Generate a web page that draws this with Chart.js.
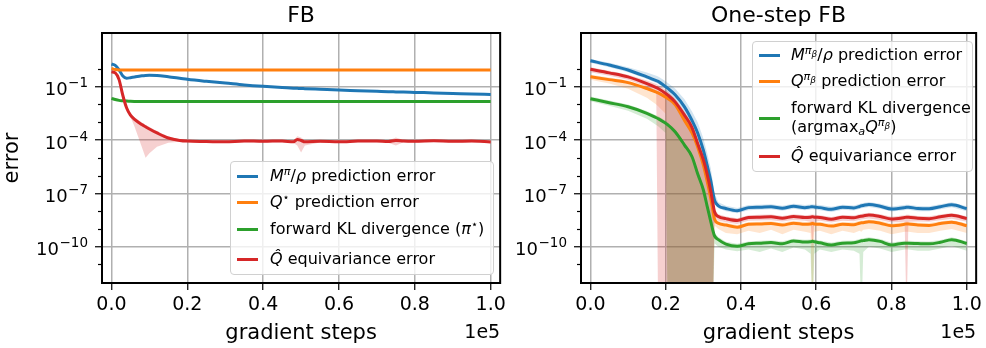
<!DOCTYPE html>
<html>
<head>
<meta charset="utf-8">
<script src="https://cdn.jsdelivr.net/npm/chart.js@4.4.1/dist/chart.umd.min.js"></script>
<style>
body { margin: 0; background: #fff; width: 986px; height: 348px; overflow: hidden; position: relative; font-family: "DejaVu Sans", sans-serif; }
canvas { position: absolute; top: 0; }
#fb { left: 0; }
#onestep { left: 510px; }
.legend { position: absolute; background: rgba(255,255,255,0.8); border: 1px solid #d0d0d0; border-radius: 4px; box-sizing: border-box; font-size: 16px; color: #000; }
.legend .sw { position: absolute; left: 6px; width: 21px; height: 3px; }
.legend .tx { position: absolute; white-space: nowrap; line-height: 19px; }
.legend i { font-style: italic; }
.legend sup { font-size: 0.7em; vertical-align: 0.5em; line-height: 0; }
.legend sup sub { font-size: 0.8em; vertical-align: -0.3em; }
.legend sub { font-size: 0.7em; vertical-align: -0.25em; line-height: 0; }
</style>
</head>
<body>
<canvas id="fb" width="510" height="348"></canvas>
<canvas id="onestep" width="476" height="348"></canvas>

<div class="legend" style="left:230px;top:161px;width:264px;height:114px">
  <div class="sw" style="top:13px;background:#1f77b4"></div>
  <div class="tx" style="left:39px;top:4px"><i>M</i><sup><i>π</i></sup>/<i>ρ</i> prediction error</div>
  <div class="sw" style="top:39px;background:#ff7f0e"></div>
  <div class="tx" style="left:39px;top:30px"><i>Q</i><sup>⋆</sup> prediction error</div>
  <div class="sw" style="top:66px;background:#2ca02c"></div>
  <div class="tx" style="left:39px;top:57px">forward KL divergence (<i>π</i><sup>⋆</sup>)</div>
  <div class="sw" style="top:96px;background:#d62728"></div>
  <div class="tx" style="left:39px;top:87px"><i>Q̂</i> equivariance error</div>
</div>

<div class="legend" style="left:752px;top:41px;width:221px;height:131px">
  <div class="sw" style="top:12px;background:#1f77b4"></div>
  <div class="tx" style="left:38px;top:3px"><i>M</i><sup><i>π</i><sub><i>β</i></sub></sup>/<i>ρ</i> prediction error</div>
  <div class="sw" style="top:38px;background:#ff7f0e"></div>
  <div class="tx" style="left:38px;top:29px"><i>Q</i><sup><i>π</i><sub><i>β</i></sub></sup> prediction error</div>
  <div class="sw" style="top:75px;background:#2ca02c"></div>
  <div class="tx" style="left:38px;top:56px">forward KL divergence</div>
  <div class="tx" style="left:38px;top:75px">(argmax<sub><i>a</i></sub><i>Q</i><sup><i>π</i><sub><i>β</i></sub></sup>)</div>
  <div class="sw" style="top:113px;background:#d62728"></div>
  <div class="tx" style="left:38px;top:104px"><i>Q̂</i> equivariance error</div>
</div>

<script>
// gradient steps (x 1e5)
var fbSteps = [0, 0.01, 0.02, 0.03, 0.04, 0.05, 0.06, 0.08, 0.09, 0.10, 0.12, 0.15, 0.18, 0.20, 0.25, 0.30, 0.35, 0.40, 0.45, 0.48, 0.49, 0.50, 0.51, 0.55, 0.60, 0.65, 0.70, 0.73, 0.75, 0.77, 0.80, 0.85, 0.90, 0.95, 1.00];

// FB
var fbM = [1.9, 1.58, 0.89, 0.4, 0.3, 0.32, 0.35, 0.41, 0.43, 0.44, 0.43, 0.36, 0.30, 0.26, 0.20, 0.16, 0.126, 0.105, 0.091, 0.083, 0.081, 0.079, 0.078, 0.072, 0.065, 0.060, 0.055, 0.052, 0.051, 0.050, 0.048, 0.045, 0.042, 0.039, 0.037];
var fbQ = [1.07, 0.92, 0.87, 0.87, 0.87, 0.87, 0.87, 0.87, 0.87, 0.87, 0.87, 0.87, 0.87, 0.87, 0.87, 0.87, 0.87, 0.87, 0.87, 0.87, 0.87, 0.87, 0.87, 0.87, 0.87, 0.87, 0.87, 0.87, 0.87, 0.87, 0.87, 0.87, 0.87, 0.87, 0.87];
var fbKL = [0.022, 0.019, 0.017, 0.0162, 0.0155, 0.015, 0.0147, 0.0145, 0.0145, 0.0145, 0.0145, 0.0145, 0.0145, 0.0145, 0.0145, 0.0145, 0.0145, 0.0145, 0.0145, 0.0145, 0.0145, 0.0145, 0.0145, 0.0145, 0.0145, 0.0145, 0.0145, 0.0145, 0.0145, 0.0145, 0.0145, 0.0145, 0.0145, 0.0145, 0.0145];
var fbEq = [0.69, 0.6, 0.25, 0.032, 6.3e-3, 2.5e-3, 1.5e-3, 7.4e-4, 5.6e-4, 4.2e-4, 2.5e-4, 1.3e-4, 9.5e-5, 8.7e-5, 8.3e-5, 7.9e-5, 8.9e-5, 8.5e-5, 8.9e-5, 7.9e-5, 1.07e-4, 9.5e-5, 7.9e-5, 8.5e-5, 8.1e-5, 8.7e-5, 8.9e-5, 8.3e-5, 9.5e-5, 8.7e-5, 8.5e-5, 9.1e-5, 8.5e-5, 8.7e-5, 7.8e-5];
var fbEqHi = [0.8, 0.7, 0.3, 0.04, 8e-3, 3.3e-3, 2e-3, 9.6e-4, 7.3e-4, 5.5e-4, 3.2e-4, 1.6e-4, 1.1e-4, 1.0e-4, 9.5e-5, 9.1e-5, 1.02e-4, 9.8e-5, 1.02e-4, 9.5e-5, 1.66e-4, 1.4e-4, 9.5e-5, 9.8e-5, 9.3e-5, 1.0e-4, 1.02e-4, 9.5e-5, 1.4e-4, 1.0e-4, 9.8e-5, 1.05e-4, 9.8e-5, 1.0e-4, 9e-5];
var fbEqLo = [0.6, 0.5, 0.2, 0.02, 5e-3, 2e-3, 6.3e-4, 4e-5, 1e-5, 1.8e-5, 4.2e-5, 7e-5, 7.9e-5, 7.4e-5, 7.1e-5, 6.8e-5, 7.6e-5, 7.3e-5, 7.6e-5, 6.8e-5, 5e-5, 2e-5, 5e-5, 7.3e-5, 7e-5, 7.5e-5, 7.6e-5, 7.1e-5, 5e-5, 7.5e-5, 7.3e-5, 7.8e-5, 7.3e-5, 7.5e-5, 6.7e-5];

// One-step FB
var osSteps = [0, 0.05, 0.10, 0.15, 0.175, 0.18, 0.20, 0.205, 0.225, 0.25, 0.27, 0.285, 0.30, 0.31, 0.32, 0.325, 0.33, 0.34, 0.36, 0.39, 0.42, 0.45, 0.48, 0.51, 0.54, 0.57, 0.585, 0.59, 0.595, 0.61, 0.64, 0.67, 0.70, 0.715, 0.72, 0.725, 0.74, 0.77, 0.80, 0.835, 0.84, 0.845, 0.87, 0.90, 0.93, 0.96, 1.00];
var osM = [2.9, 1.66, 0.87, 0.355, 0.219, 0.2, 0.1, 0.083, 0.0355, 7.4e-3, 1.26e-3, 2.5e-4, 2.75e-5, 4e-6, 5e-7, 1.26e-7, 4e-8, 2e-8, 1.41e-8, 1.05e-8, 1.58e-8, 1.66e-8, 1.78e-8, 1.45e-8, 1.9e-8, 1.58e-8, 1.74e-8, 1.78e-8, 1.7e-8, 1.58e-8, 1.26e-8, 1.66e-8, 1.51e-8, 1.82e-8, 2e-8, 2.1e-8, 2.4e-8, 1.9e-8, 1.32e-8, 1.58e-8, 1.66e-8, 1.66e-8, 1.41e-8, 1.38e-8, 1.78e-8, 2.3e-8, 1.38e-8];
var osMHi = [3.6, 2.2, 1.26, 0.63, 0.42, 0.38, 0.2, 0.166, 0.079, 0.02, 4e-3, 1e-3, 1.26e-4, 2e-5, 2.5e-6, 5e-7, 1e-7, 3.2e-8, 2e-8, 1.5e-8, 2.2e-8, 2.3e-8, 2.45e-8, 2.0e-8, 2.6e-8, 2.2e-8, 2.4e-8, 2.45e-8, 2.35e-8, 2.2e-8, 1.75e-8, 2.3e-8, 2.1e-8, 2.5e-8, 2.75e-8, 2.9e-8, 3.3e-8, 2.6e-8, 1.8e-8, 2.2e-8, 2.3e-8, 2.3e-8, 1.95e-8, 1.9e-8, 2.45e-8, 3.2e-8, 1.9e-8];
var osMLo = [2.2, 1.26, 0.66, 0.27, 0.16, 0.145, 0.07, 1e-14, 1e-14, 1e-14, 1e-14, 1e-14, 1e-14, 1e-14, 1e-14, 1e-14, 2.6e-8, 1.45e-8, 1.0e-8, 7.6e-9, 1.14e-8, 1.2e-8, 1.28e-8, 1.04e-8, 1.37e-8, 1.14e-8, 1.25e-8, 1.28e-8, 1.22e-8, 1.14e-8, 9.1e-9, 1.2e-8, 1.09e-8, 1.31e-8, 1.44e-8, 1.5e-8, 1.73e-8, 1.37e-8, 9.5e-9, 1.14e-8, 1.2e-8, 1.2e-8, 1.0e-8, 9.9e-9, 1.28e-8, 1.66e-8, 9.9e-9];
var osQ = [0.363, 0.25, 0.17, 0.079, 0.05, 0.045, 0.026, 0.022, 0.01, 1.26e-3, 2.5e-4, 4e-5, 4e-6, 5e-7, 5e-8, 1.26e-8, 3.5e-9, 2.1e-9, 1.66e-9, 1.26e-9, 1.82e-9, 1.9e-9, 2.0e-9, 1.66e-9, 2.1e-9, 1.82e-9, 1.9e-9, 2.0e-9, 1.9e-9, 1.82e-9, 1.45e-9, 1.82e-9, 1.74e-9, 2.1e-9, 2.2e-9, 2.24e-9, 2.5e-9, 2.1e-9, 1.51e-9, 1.82e-9, 1.9e-9, 1.9e-9, 1.66e-9, 1.58e-9, 2.0e-9, 2.4e-9, 1.51e-9];
var osQHi = [0.47, 0.33, 0.22, 0.1, 0.065, 0.058, 0.034, 0.029, 0.013, 1.8e-3, 3.6e-4, 6e-5, 6e-6, 7.5e-7, 7.5e-8, 1.9e-8, 4.6e-9, 2.8e-9, 2.2e-9, 1.65e-9, 2.45e-9, 2.55e-9, 2.7e-9, 2.25e-9, 2.85e-9, 2.45e-9, 2.55e-9, 2.7e-9, 2.55e-9, 2.45e-9, 1.95e-9, 2.45e-9, 2.35e-9, 2.85e-9, 3.0e-9, 3.0e-9, 3.4e-9, 2.85e-9, 2.05e-9, 2.45e-9, 2.55e-9, 2.55e-9, 2.25e-9, 2.15e-9, 2.7e-9, 3.2e-9, 2.05e-9];
var osQLo = [0.25, 0.15, 0.077, 0.024, 0.01, 8e-3, 3e-3, 1e-14, 1e-14, 1e-14, 1e-14, 1e-14, 1e-14, 1e-14, 1e-14, 1e-14, 1.5e-9, 1.0e-9, 6e-10, 5e-10, 8e-10, 6e-10, 9e-10, 5e-10, 9e-10, 7e-10, 6e-10, 1e-14, 7e-10, 8e-10, 5e-10, 8e-10, 6e-10, 8e-10, 7e-10, 9e-10, 1.0e-9, 8e-10, 5e-10, 7e-10, 7e-10, 7e-10, 6e-10, 6e-10, 8e-10, 1.0e-9, 6e-10];
var osKL = [0.021, 0.0126, 7.4e-3, 3.2e-3, 1.8e-3, 1.6e-3, 8.7e-4, 7.4e-4, 2.95e-4, 5.2e-5, 1.15e-5, 1.26e-6, 1.6e-7, 2e-8, 2.5e-9, 8.9e-10, 4e-10, 2.5e-10, 1.41e-10, 1.07e-10, 1.45e-10, 1.58e-10, 1.7e-10, 1.48e-10, 2.1e-10, 1.82e-10, 1.9e-10, 2.0e-10, 1.9e-10, 1.66e-10, 1.26e-10, 1.58e-10, 1.66e-10, 2.0e-10, 2.14e-10, 2.2e-10, 2.5e-10, 2.0e-10, 1.26e-10, 1.58e-10, 1.58e-10, 1.58e-10, 1.51e-10, 1.45e-10, 1.78e-10, 2.5e-10, 1.51e-10];
var osKLHi = [0.028, 0.017, 0.01, 4.3e-3, 2.4e-3, 2.2e-3, 1.2e-3, 1.0e-3, 4e-4, 7.5e-5, 1.7e-5, 2e-6, 2.6e-7, 3.2e-8, 4e-9, 1.4e-9, 6e-10, 3.5e-10, 1.9e-10, 1.45e-10, 1.95e-10, 2.15e-10, 2.3e-10, 2.0e-10, 2.85e-10, 2.45e-10, 2.55e-10, 2.7e-10, 2.55e-10, 2.25e-10, 1.7e-10, 2.15e-10, 2.25e-10, 2.7e-10, 2.9e-10, 3.0e-10, 3.4e-10, 2.7e-10, 1.7e-10, 2.15e-10, 2.15e-10, 2.15e-10, 2.05e-10, 1.95e-10, 2.4e-10, 3.4e-10, 2.05e-10];
var osKLLo = [0.015, 8.5e-3, 4.5e-3, 1.6e-3, 7e-4, 6e-4, 2.5e-4, 1e-14, 1e-14, 1e-14, 1e-14, 1e-14, 1e-14, 1e-14, 1e-14, 1e-14, 1.5e-10, 1e-10, 7e-11, 5.5e-11, 7e-11, 5e-11, 8e-11, 5e-11, 9e-11, 7e-11, 4e-11, 1e-14, 4e-11, 7e-11, 5e-11, 7e-11, 6e-11, 4e-11, 1e-14, 5e-11, 1.0e-10, 8e-11, 5e-11, 7e-11, 7e-11, 7e-11, 6e-11, 6e-11, 8e-11, 1.1e-10, 6e-11];
var osEq = [0.95, 0.6, 0.355, 0.15, 0.089, 0.079, 0.042, 0.035, 0.014, 2.5e-3, 5e-4, 6.3e-5, 7.9e-6, 1.26e-6, 1.26e-7, 3.2e-8, 8.9e-9, 5e-9, 3.8e-9, 3.0e-9, 4.4e-9, 4.6e-9, 4.8e-9, 4.0e-9, 5.0e-9, 4.4e-9, 4.6e-9, 4.8e-9, 4.6e-9, 4.4e-9, 3.5e-9, 4.5e-9, 4.2e-9, 5.0e-9, 5.2e-9, 5.4e-9, 6.0e-9, 5.0e-9, 3.6e-9, 4.4e-9, 4.6e-9, 4.6e-9, 4.0e-9, 3.8e-9, 4.8e-9, 5.8e-9, 3.8e-9];
var osEqHi = [1.25, 0.8, 0.47, 0.22, 0.14, 0.125, 0.067, 0.056, 0.022, 4e-3, 8e-4, 1e-4, 1.26e-5, 2e-6, 2e-7, 5e-8, 1.3e-8, 6.8e-9, 5e-9, 4e-9, 5.9e-9, 6.2e-9, 6.5e-9, 5.4e-9, 6.8e-9, 5.9e-9, 6.2e-9, 6.5e-9, 6.2e-9, 5.9e-9, 4.7e-9, 6.1e-9, 5.7e-9, 6.8e-9, 7.0e-9, 7.3e-9, 8.1e-9, 6.8e-9, 4.9e-9, 5.9e-9, 6.2e-9, 6.2e-9, 5.4e-9, 5.1e-9, 6.5e-9, 7.8e-9, 5.1e-9];
var osEqLo = [0.66, 0.42, 0.25, 0.1, 0.045, 1e-14, 1e-14, 1e-14, 1e-14, 1e-14, 1e-14, 1e-14, 1e-14, 1e-14, 1e-14, 1e-14, 4.5e-9, 3e-9, 2.4e-9, 1.9e-9, 2.9e-9, 3.0e-9, 3.1e-9, 2.6e-9, 3.2e-9, 2.9e-9, 2.5e-9, 1e-10, 2.5e-9, 2.9e-9, 2.3e-9, 2.9e-9, 2.7e-9, 3.2e-9, 3.4e-9, 3.5e-9, 3.9e-9, 3.2e-9, 2.3e-9, 2.5e-9, 1e-14, 2.5e-9, 2.6e-9, 2.5e-9, 3.1e-9, 3.8e-9, 2.5e-9];

// axes
var xTicks = [0, 0.2, 0.4, 0.6, 0.8, 1.0];
var yMajor = [1e-1, 1e-4, 1e-7, 1e-10];
var yExponents = ['\u22121', '\u22124', '\u22127', '\u221210'];
var yMinor = [1e0, 1e-2, 1e-3, 1e-5, 1e-6, 1e-8, 1e-9, 1e-11];

var colors = { blue: '#1f77b4', orange: '#ff7f0e', green: '#2ca02c', red: '#d62728' };
var fills = { blue: 'rgba(31,119,180,0.2)', orange: 'rgba(255,127,14,0.2)', green: 'rgba(44,160,44,0.2)', red: 'rgba(214,39,40,0.22)' };
var FONT = '"DejaVu Sans"';

function pts(xs, ys) {
    return xs.map(function(x, i) { return { x: x, y: ys[i] }; });
}

function line(xs, ys, col, order) {
    return {
        data: pts(xs, ys), borderColor: colors[col], borderWidth: 3,
        pointRadius: 0, fill: false, cubicInterpolationMode: 'monotone', order: order
    };
}

// two datasets: upper edge, then lower edge filled back to it
function band(xs, hi, lo, col, order) {
    return [{
        data: pts(xs, hi), borderWidth: 0, borderColor: 'transparent',
        pointRadius: 0, fill: false, order: order
    }, {
        data: pts(xs, lo), borderWidth: 0, borderColor: 'transparent',
        pointRadius: 0, fill: '-1', backgroundColor: fills[col], order: order - 1
    }];
}

var framePlugin = {
    id: 'frame',
    afterDraw: function(chart, args, opts) {
        var ctx = chart.ctx, a = chart.chartArea, y = chart.scales.y;
        ctx.save();
        ctx.strokeStyle = '#000';
        ctx.lineWidth = 1.2;
        yMinor.forEach(function(v) {
            var py = Math.round(y.getPixelForValue(v)) + 0.5;
            ctx.beginPath();
            ctx.moveTo(a.left - 4, py);
            ctx.lineTo(a.left, py);
            ctx.stroke();
        });
        ctx.lineWidth = 2;
        ctx.strokeRect(a.left, a.top, a.right - a.left, a.bottom - a.top);
        ctx.fillStyle = '#000';
        ctx.textBaseline = 'alphabetic';
        // y tick labels: 10 with a raised exponent
        ctx.textAlign = 'right';
        yMajor.forEach(function(v, i) {
            var py = y.getPixelForValue(v);
            var xr = a.left - 14;
            ctx.font = '13.5px ' + FONT;
            ctx.fillText(yExponents[i], xr, py + 0.5);
            var w = ctx.measureText(yExponents[i]).width;
            ctx.font = '18px ' + FONT;
            ctx.fillText('10', xr - w - 0.5, py + 8.5);
        });
        ctx.textAlign = 'center';
        ctx.font = '22px ' + FONT;
        ctx.fillText(opts.title, (a.left + a.right) / 2, 22);
        ctx.textAlign = 'right';
        ctx.font = '19px ' + FONT;
        ctx.fillText('1e5', a.right, 338);
        ctx.restore();
    }
};

function makeChart(id, title, datasets, yWidth, padRight, yTitle) {
    return new Chart(document.getElementById(id), {
        type: 'line',
        data: { datasets: datasets },
        plugins: [framePlugin],
        options: {
            responsive: false,
            animation: false,
            devicePixelRatio: 1,
            layout: { padding: { top: 33, right: padRight, left: 0, bottom: 0 } },
            plugins: {
                legend: { display: false },
                tooltip: { enabled: false },
                frame: { title: title }
            },
            scales: {
                x: {
                    type: 'linear', min: -0.025, max: 1.025,
                    afterBuildTicks: function(s) { s.ticks = xTicks.map(function(v) { return { value: v }; }); },
                    afterFit: function(s) { s.height = 65; },
                    ticks: {
                        color: '#000', padding: 4, maxRotation: 0,
                        font: { family: FONT, size: 19 },
                        callback: function(v) { return v.toFixed(1); }
                    },
                    grid: { color: '#b0b0b0', lineWidth: 1.5, tickLength: 7, tickColor: '#000', tickWidth: 1.2 },
                    border: { display: false },
                    title: { display: true, text: 'gradient steps', color: '#000', font: { family: FONT, size: 21 }, padding: { top: 0, bottom: 2 } }
                },
                y: {
                    type: 'logarithmic', min: 9.1e-13, max: 1.05e2,
                    afterBuildTicks: function(s) { s.ticks = yMajor.map(function(v) { return { value: v }; }); },
                    afterFit: function(s) { s.width = yWidth; },
                    ticks: {
                        color: '#000', padding: 7,
                        font: { family: FONT, size: 19 },
                        callback: function() { return ''; }
                    },
                    grid: { color: '#b0b0b0', lineWidth: 1.5, tickLength: 7, tickColor: '#000', tickWidth: 1.2 },
                    border: { display: false },
                    title: { display: !!yTitle, text: yTitle || '', color: '#000', font: { family: FONT, size: 21 }, padding: { top: 0, bottom: 0 } }
                }
            }
        }
    });
}

makeChart('fb', 'FB', [].concat(
    band(fbSteps, fbEqHi, fbEqLo, 'red', 12),
    line(fbSteps, fbM, 'blue', 4),
    line(fbSteps, fbQ, 'orange', 3),
    line(fbSteps, fbKL, 'green', 2),
    line(fbSteps, fbEq, 'red', 1)
), 102, 9, 'error');

makeChart('onestep', 'One-step FB', [].concat(
    band(osSteps, osMHi, osMLo, 'blue', 20),
    band(osSteps, osQHi, osQLo, 'orange', 18),
    band(osSteps, osKLHi, osKLLo, 'green', 16),
    band(osSteps, osEqHi, osEqLo, 'red', 14),
    line(osSteps, osM, 'blue', 4),
    line(osSteps, osQ, 'orange', 3),
    line(osSteps, osKL, 'green', 2),
    line(osSteps, osEq, 'red', 1)
), 71, 6, null);
</script>
</body>
</html>
